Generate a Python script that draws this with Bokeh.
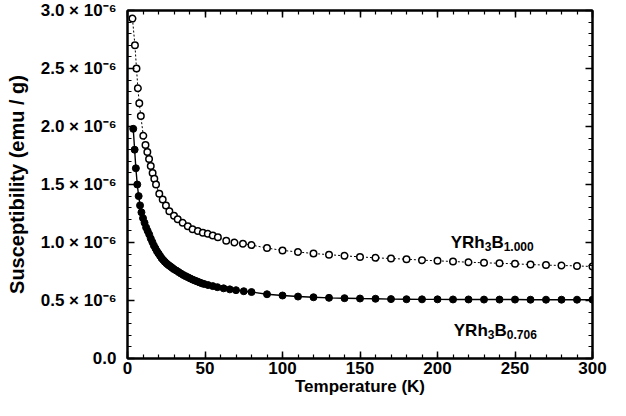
from bokeh.plotting import figure
from bokeh.models import LinearAxis, SingleIntervalTicker, CustomJSTickFormatter, Range1d
from bokeh.core.properties import value
from bokeh.embed import file_html
from bokeh.resources import INLINE

# Susceptibility in units of 1e-6 emu/g
temp_b1000 = [3.2, 4.8, 5.8, 6.7, 7.6, 8.6, 10.2, 11.6, 12.8, 13.9, 15.0, 16.2, 17.3, 18.4,
              20.5, 22.7, 24.8, 27.0, 30.0, 32.4, 35.6, 38.9, 42.0, 45.4, 48.6, 51.8, 55.0,
              58.3, 63.7, 69.0, 74.5, 80.0, 90, 100, 110, 120, 130, 140, 150, 160, 170, 180,
              190, 200, 210, 220, 230, 240, 250, 260, 270, 280, 290, 300]
chi_b1000 = [2.93, 2.70, 2.50, 2.33, 2.20, 2.09, 1.92, 1.84, 1.78, 1.72, 1.66, 1.60, 1.55, 1.50,
             1.42, 1.37, 1.32, 1.27, 1.23, 1.20, 1.17, 1.14, 1.115, 1.10, 1.085, 1.075, 1.06,
             1.045, 1.015, 1.00, 0.99, 0.978, 0.952, 0.932, 0.918, 0.905, 0.895, 0.885, 0.876,
             0.868, 0.862, 0.856, 0.848, 0.842, 0.836, 0.830, 0.825, 0.821, 0.816, 0.810,
             0.805, 0.802, 0.798, 0.793]

temp_b0706 = [3.7, 4.6, 5.4, 6.3, 7.2, 8.1, 9.0, 10, 11, 12, 13, 14, 15, 16, 17, 18, 19, 20,
              21, 22, 23, 24, 25, 26, 27, 28, 29, 30, 31.5, 33, 34.5, 36, 37.5, 39, 40.5, 42,
              43.5, 45, 46.5, 48, 49.5, 52, 55, 58, 62, 66, 70, 75, 80, 90, 100, 110, 120,
              130, 140, 150, 160, 170, 180, 190, 200, 210, 220, 230, 240, 250, 260, 270, 280,
              290, 300]
chi_b0706 = [1.98, 1.80, 1.64, 1.50, 1.40, 1.32, 1.26, 1.21, 1.17, 1.13, 1.10, 1.07, 1.035,
             1.005, 0.975, 0.95, 0.925, 0.905, 0.885, 0.865, 0.85, 0.835, 0.822, 0.81, 0.80,
             0.79, 0.78, 0.77, 0.758, 0.745, 0.732, 0.72, 0.71, 0.70, 0.69, 0.68, 0.672, 0.664,
             0.656, 0.648, 0.642, 0.633, 0.624, 0.615, 0.605, 0.596, 0.589, 0.58, 0.573, 0.554,
             0.543, 0.534, 0.528, 0.523, 0.520, 0.517, 0.515, 0.512, 0.511, 0.510, 0.510,
             0.509, 0.509, 0.508, 0.508, 0.508, 0.507, 0.507, 0.507, 0.507, 0.507]

# Series label pieces; anchor (x in K, baseline in 1e-6 emu/g)
label_main = ["YRh", "B"]
label_sub_b1000 = ["3", "1.000"]
label_sub_b0706 = ["3", "0.706"]
label_pos_b1000 = (208.5, 1.0)
label_pos_b0706 = (210.5, 0.24)

x_label = "Temperature (K)"
y_label = "Susceptibility (emu / g)"

FONT = "Liberation Sans"

p = figure(width=610, height=400, output_backend="svg", toolbar_location=None,
           x_range=Range1d(0, 300), y_range=Range1d(0, 3.0),
           x_axis_location=None, y_axis_location=None)
p.min_border_left = 127
p.min_border_right = 18
p.min_border_top = 10
p.min_border_bottom = 42
p.grid.visible = False
p.outline_line_color = "black"
p.outline_line_width = 2
p.background_fill_color = "white"
p.border_fill_color = "white"

yfmt = CustomJSTickFormatter(code="""
    if (Math.abs(tick) < 1e-9) { return "0.0"; }
    return tick.toFixed(1) + " \u00d7 10\u207b\u2076";
""")

def make_axis(loc, labels):
    if loc in ("below", "above"):
        ticker = SingleIntervalTicker(interval=50, num_minor_ticks=5)
    else:
        ticker = SingleIntervalTicker(interval=0.5, num_minor_ticks=5)
    ax = LinearAxis(ticker=ticker)
    ax.axis_line_color = "black"
    ax.axis_line_width = 2
    ax.major_tick_in = 7
    ax.major_tick_out = 0
    ax.minor_tick_in = 4
    ax.minor_tick_out = 0
    ax.major_tick_line_width = 1.5
    ax.minor_tick_line_width = 1.2
    ax.major_label_text_font = FONT
    ax.major_label_text_font_style = "bold"
    ax.major_label_text_color = "black"
    ax.axis_label_text_font = FONT
    ax.axis_label_text_font_style = "bold"
    ax.axis_label_text_color = "black"
    if not labels:
        ax.major_label_text_color = None
        ax.major_label_text_font_size = "1px"
        ax.major_label_standoff = 0
    return ax

xb = make_axis("below", True)
xb.axis_label = x_label
xb.major_label_text_font_size = "17px"
xb.axis_label_text_font_size = "17px"
xb.major_label_standoff = 3
xb.axis_label_standoff = 0
p.add_layout(xb, "below")

yl = make_axis("left", True)
yl.formatter = yfmt
yl.axis_label = y_label
yl.major_label_text_font_size = "17px"
yl.axis_label_text_font_size = "20px"
yl.major_label_standoff = 11
yl.axis_label_standoff = 10
p.add_layout(yl, "left")

p.add_layout(make_axis("above", False), "above")
p.add_layout(make_axis("right", False), "right")

# series
p.line(temp_b1000, chi_b1000, line_color="black", line_width=1, line_dash="2 2")
p.scatter(temp_b1000, chi_b1000, marker="circle", size=6.5, fill_color="white",
          line_color="black", line_width=1.5)
p.line(temp_b0706, chi_b0706, line_color="black", line_width=1.4)
p.scatter(temp_b0706, chi_b0706, marker="circle", size=7, fill_color="black",
          line_color="black", line_width=1)

# series labels with subscripts (bold Liberation Sans metrics)
def annotate(pos, subs):
    x0, y0 = pos
    main_w = 34.0   # "YRh" at 17px bold
    sub1_w = 6.7    # "3" at 12px bold
    b_w = 12.3      # "B" at 17px bold
    common = dict(text_font=value(FONT), text_font_style="bold",
                  text_baseline="alphabetic", text_color="black")
    p.text(x=[x0], y=[y0], text=[label_main[0]], text_font_size=value("17px"), **common)
    p.text(x=[x0], y=[y0 - 0.035], text=[subs[0]], x_offset=main_w,
           text_font_size=value("12px"), **common)
    p.text(x=[x0], y=[y0], text=[label_main[1]], x_offset=main_w + sub1_w,
           text_font_size=value("17px"), **common)
    p.text(x=[x0], y=[y0 - 0.035], text=[subs[1]], x_offset=main_w + sub1_w + b_w,
           text_font_size=value("12px"), **common)

annotate(label_pos_b1000, label_sub_b1000)
annotate(label_pos_b0706, label_sub_b0706)

open("out.html", "w").write(file_html(p, INLINE))
